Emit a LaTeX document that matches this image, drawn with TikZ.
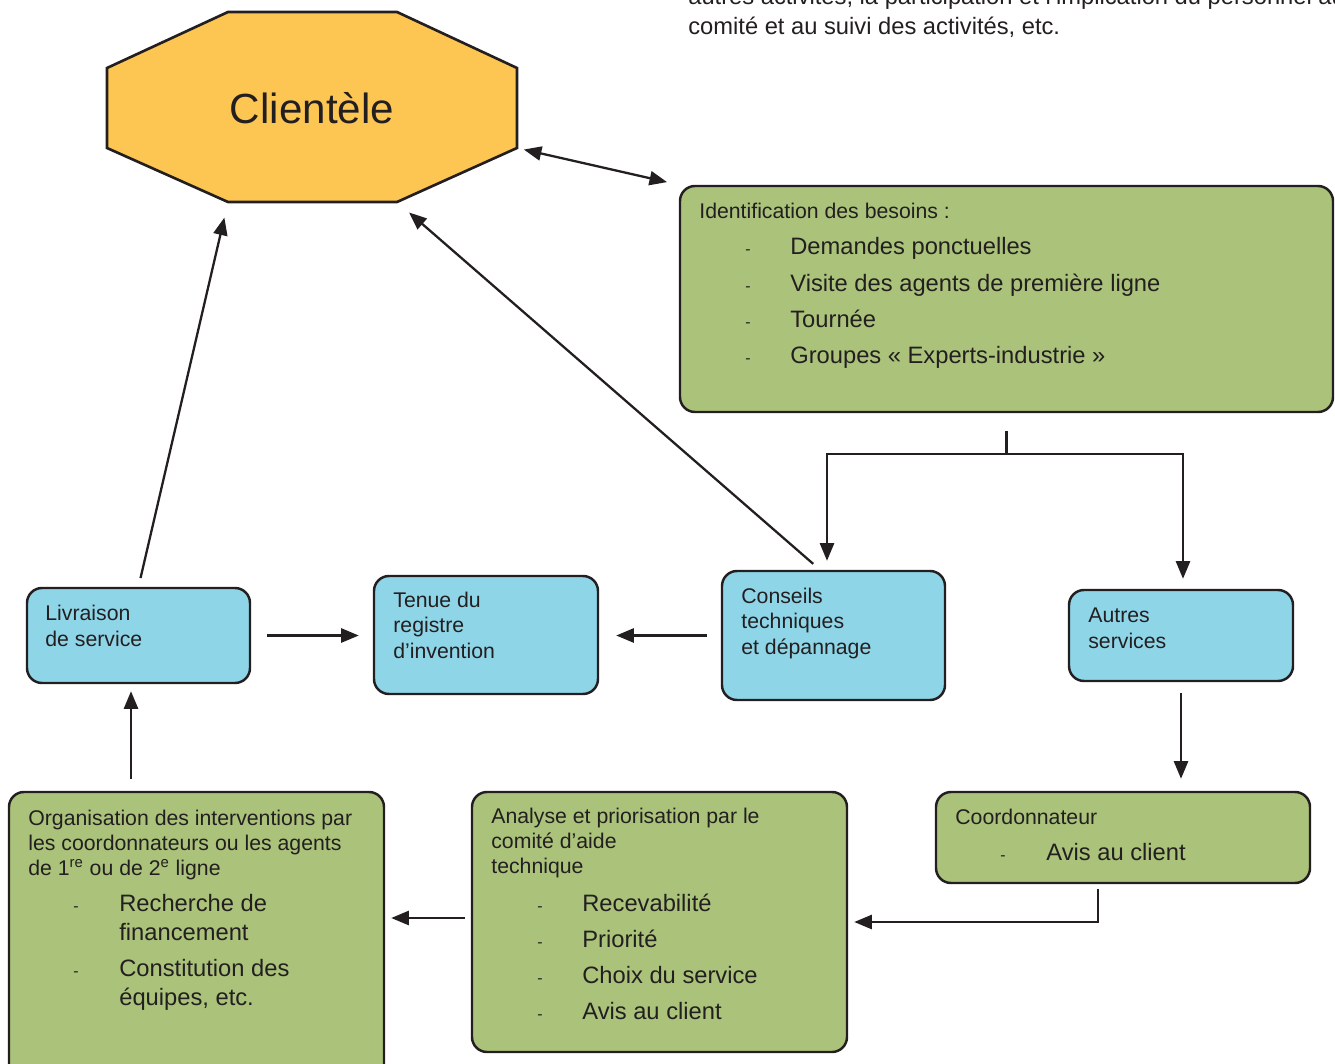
\documentclass[tikz,border=0pt]{standalone}
\usepackage{fontspec}
\setmainfont{Liberation Sans}
\usetikzlibrary{arrows.meta,fit}
\definecolor{ink}{HTML}{231F20}
\definecolor{jaune}{HTML}{FDC652}
\definecolor{vert}{HTML}{AAC27A}
\definecolor{bleu}{HTML}{8FD5E8}
\begin{document}
\begin{tikzpicture}[x=0.02cm, y=-0.02cm,
  boite/.style={draw=ink, line width=1.4pt, rounded corners=0.3cm, inner sep=0pt},
  vbox/.style={boite, fill=vert},
  bbox/.style={boite, fill=bleu},
  txt/.style={inner sep=0pt, anchor=base west, text=ink, font=\fontsize{12.1}{14.5}\selectfont},
  item/.style={txt, font=\fontsize{13.5}{16}\selectfont},
  tiret/.style={txt, font=\fontsize{9}{10}\selectfont},
  fleche/.style={draw=ink, line width=1.3pt, -{Triangle[length=10pt,width=8pt]}},
  fleches/.style={fleche, {Triangle[length=10pt,width=8pt]}-{Triangle[length=10pt,width=8pt]}}]
\useasboundingbox (0,0) rectangle (1335,1064);
% note en haut
\node[txt, font=\fontsize{13.5}{16}\selectfont] (note1) at (688,5) {autres activités, la participation et l’implication du personnel au};
\node[txt, font=\fontsize{13.5}{16}\selectfont] (note2) at (688,35) {comité et au suivi des activités, etc.};
% clientele
\draw[fill=jaune, draw=ink, line width=1.5pt] (228,12) -- (397,12) -- (517,68) -- (517,148)
  -- (397,202) -- (228,202) -- (107,148) -- (107,68) -- cycle;
\node[text=ink, font=\fontsize{24}{28}\selectfont] (clientele) at (312,108) {Clientèle};
\coordinate (cl-sg) at (228,202);
\coordinate (cl-sd) at (397,202);
\coordinate (cl-ed) at (517,148);
% boites
\node[vbox, fit={(680,186) (1333,412)}] (besoins) {};
\node[bbox, fit={(27,588) (250,683)}] (livraison) {};
\node[bbox, fit={(374,576) (598,694)}] (registre) {};
\node[bbox, fit={(722,571) (945,700)}] (conseils) {};
\node[bbox, fit={(1069,590) (1293,681)}] (autres) {};
\node[vbox, fit={(9,792) (384,1085)}] (organisation) {};
\node[vbox, fit={(472,792) (847,1052)}] (analyse) {};
\node[vbox, fit={(936,792) (1310,883)}] (coord) {};
% textes
\node[txt] (besoins-t) at (699,218) {Identification des besoins :};
\foreach \t [count=\i from 0] in {Demandes ponctuelles, Visite des agents de première ligne, Tournée, Groupes « Experts-industrie »} {
  \node[tiret] (besoins-d\i) at (745,255+36.3*\i) {-};
  \node[item] (besoins-\i) at (790,255+36.3*\i) {\t};
}
\foreach \t [count=\i from 0] in {Livraison, de service}
  \node[txt] (livraison-\i) at (45,620+26*\i) {\t};
\foreach \t [count=\i from 0] in {Tenue du, registre, d’invention}
  \node[txt] (registre-\i) at (393,607+25.5*\i) {\t};
\foreach \t [count=\i from 0] in {Conseils, techniques, et dépannage}
  \node[txt] (conseils-\i) at (741,603+25.5*\i) {\t};
\foreach \t [count=\i from 0] in {Autres, services}
  \node[txt] (autres-\i) at (1088,622+26*\i) {\t};
\foreach \t [count=\i from 0] in {Organisation des interventions par, les coordonnateurs ou les agents, de 1\textsuperscript{re} ou de 2\textsuperscript{e} ligne}
  \node[txt] (organisation-\i) at (28,825+25*\i) {\t};
\node[tiret] (organisation-d0) at (73,911) {-};
\node[tiret] (organisation-d1) at (73,976) {-};
\node[item] (organisation-i0) at (119,911) {Recherche de};
\node[item] (organisation-i1) at (119,940) {financement};
\node[item] (organisation-i2) at (119,976) {Constitution des};
\node[item] (organisation-i3) at (119,1005) {équipes, etc.};
\foreach \t [count=\i from 0] in {Analyse et priorisation par le, comité d’aide, technique}
  \node[txt] (analyse-\i) at (491,823+25*\i) {\t};
\foreach \t [count=\i from 0] in {Recevabilité, Priorité, Choix du service, Avis au client} {
  \node[tiret] (analyse-d\i) at (537,911+36.3*\i) {-};
  \node[item] (analyse-i\i) at (582,911+36.3*\i) {\t};
}
\node[txt] (coord-t) at (955,824) {Coordonnateur};
\node[tiret] (coord-d) at (1000,860) {-};
\node[item] (coord-i) at (1046,860) {Avis au client};
% fleches
\draw[fleches, shorten <=0.14cm, shorten >=0.24cm] (cl-ed) -- (besoins.north west);
\draw[fleche, shorten <=0.18cm, shorten >=0.32cm] (livraison.north) -- (cl-sg);
\draw[fleche, shorten <=0.18cm, shorten >=0.32cm] ([xshift=-0.27cm]conseils.north) -- (cl-sd);
\draw[draw=ink, line width=1.3pt] ([yshift=-0.36cm]besoins.south) -- ++(0,23) coordinate (partage);
\draw[fleche, shorten >=0.18cm] (partage) -| ([xshift=-0.13cm]conseils.north);
\draw[fleche, shorten >=0.2cm] (partage) -| ([xshift=0.04cm]autres.north);
\draw[fleche, shorten <=0.32cm, shorten >=0.28cm] (livraison.east) -- (livraison.east -| registre.west);
\draw[fleche, shorten <=0.28cm, shorten >=0.34cm] (conseils.west) -- (conseils.west -| registre.east);
\draw[fleche, shorten <=0.22cm, shorten >=0.24cm] (autres.south) -- (autres.south |- coord.north);
\draw[fleche, shorten >=0.12cm] ([xshift=-0.5cm, yshift=-0.1cm]coord.south) |- (analyse.east);
\draw[fleche, shorten <=0.12cm, shorten >=0.12cm] ([yshift=0.08cm]analyse.west) -- ([yshift=0.08cm]analyse.west -| organisation.east);
\draw[fleche, shorten <=0.24cm, shorten >=0.14cm] ([xshift=-0.15cm]livraison.south |- organisation.north) -- ([xshift=-0.15cm]livraison.south);
\end{tikzpicture}
\end{document}
